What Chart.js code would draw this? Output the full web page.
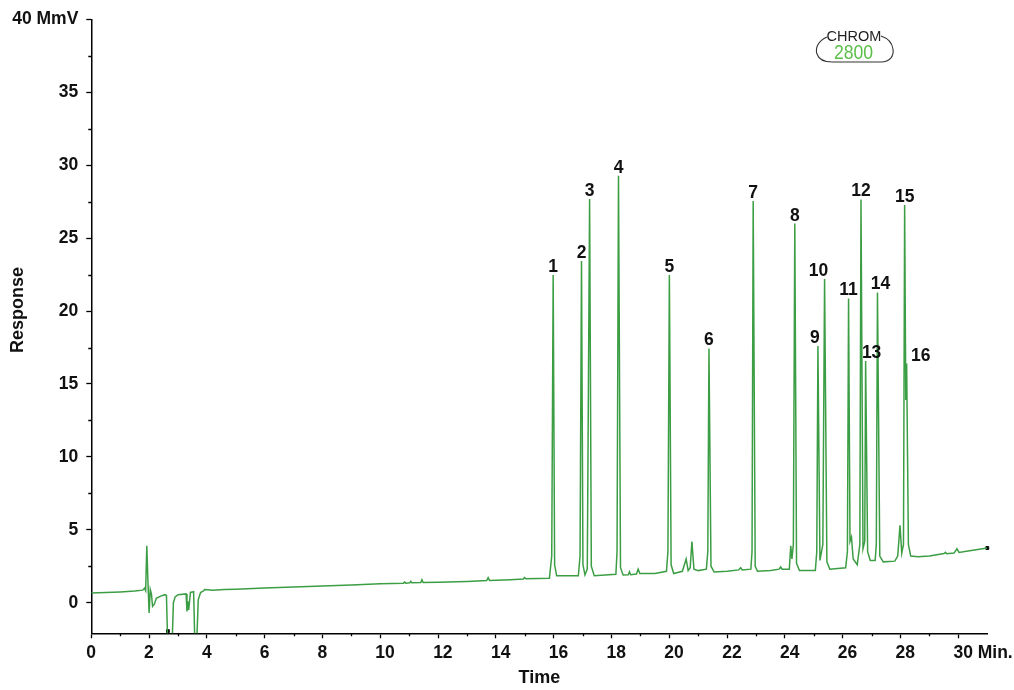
<!DOCTYPE html>
<html>
<head>
<meta charset="utf-8">
<script src="https://cdn.jsdelivr.net/npm/chart.js@4.4.1/dist/chart.umd.min.js"></script>
<style>
  html, body { margin: 0; padding: 0; background: #fff; }
  #wrap { width: 1014px; height: 690px; }
</style>
</head>
<body>
<div id="wrap"><canvas id="chrom" width="1014" height="690"></canvas></div>
<script>
// numbered peaks: retention time (min) and apex response (mV)
var peakNames   = ['1', '2', '3', '4', '5', '6', '7', '8', '9', '10', '11', '12', '13', '14', '15', '16'];
var peakTimes   = [15.98, 16.96, 17.24, 18.24, 20.0, 21.37, 22.9, 24.34, 25.14, 25.37, 26.2, 26.63, 26.79, 27.2, 28.14, 28.21];
var peakHeights = [22.47, 23.43, 27.69, 29.29, 22.47, 17.44, 27.55, 26.0, 17.6, 22.2, 20.87, 27.66, 16.57, 21.28, 27.27, 16.4];

// detector trace between the apexes: [time, response]
var trace = [
  [0, 0.67], [0.5, 0.7], [1, 0.74], [1.5, 0.8], [1.78, 0.86], [1.84, 1.0], [1.88, 0.82], [1.92, 3.9],
  [1.96, 1.4], [2.0, -0.7], [2.04, 0.9], [2.08, 0.6], [2.12, -0.25], [2.18, -0.1], [2.25, 0.3], [2.4, 0.45],
  [2.55, 0.55], [2.6, 0.5], [2.64, -2.6], [2.8, -2.6], [2.84, 0.0], [2.9, 0.4], [3.0, 0.55], [3.28, 0.6],
  [3.31, -0.6], [3.34, 0.1], [3.37, -0.5], [3.43, 0.7], [3.54, 0.75], [3.58, -2.6], [3.65, -2.6], [3.7, 0.2],
  [3.78, 0.7], [3.88, 0.8], [3.92, 0.9], [4.2, 0.86], [4.6, 0.9], [5, 0.92], [6, 1.0], [7, 1.08],
  [8, 1.15], [9, 1.22], [10, 1.3], [10.8, 1.34], [10.84, 1.42], [10.88, 1.34], [11.02, 1.36], [11.05, 1.47],
  [11.09, 1.37], [11.4, 1.38], [11.44, 1.58], [11.48, 1.39], [12, 1.41], [13, 1.46], [13.68, 1.52], [13.73, 1.72],
  [13.78, 1.53], [14.5, 1.58], [14.95, 1.62], [14.99, 1.72], [15.04, 1.64], [15.85, 1.68], [15.93, 3.2], [16.03, 2.6],
  [16.1, 1.85], [16.85, 1.85], [16.91, 3.2], [17.01, 2.6], [17.08, 1.9], [17.16, 2.3], [17.3, 2.5], [17.4, 1.85],
  [18.15, 1.95], [18.19, 3.5], [18.31, 2.4], [18.4, 1.9], [18.58, 1.92], [18.62, 2.12], [18.66, 1.92], [18.86, 1.96],
  [18.92, 2.3], [18.98, 2.0], [19.5, 2.0], [19.9, 2.15], [19.95, 3.5], [20.06, 2.6], [20.15, 2.0], [20.45, 2.15],
  [20.58, 3.0], [20.65, 2.2], [20.72, 2.4], [20.78, 4.2], [20.85, 2.3], [21.0, 2.2], [21.28, 2.3], [21.33, 3.5],
  [21.44, 2.5], [21.55, 2.1], [22, 2.15], [22.4, 2.25], [22.47, 2.4], [22.52, 2.25], [22.82, 2.3], [22.86, 3.5],
  [22.97, 2.5], [23.05, 2.15], [23.5, 2.2], [23.8, 2.3], [23.85, 2.45], [23.9, 2.3], [24.15, 2.3], [24.2, 3.9],
  [24.24, 3.0], [24.29, 4.0], [24.4, 2.7], [24.5, 2.2], [25.05, 2.2], [25.1, 3.5], [25.21, 2.9], [25.31, 4.0],
  [25.45, 2.8], [25.55, 2.3], [26.1, 2.4], [26.16, 3.5], [26.25, 4.2], [26.3, 4.5], [26.36, 3.0], [26.5, 2.6],
  [26.59, 4.0], [26.7, 3.7], [26.76, 4.2], [26.86, 3.5], [26.95, 2.9], [27.12, 2.9], [27.16, 4.0], [27.28, 3.2],
  [27.4, 2.8], [27.8, 2.85], [27.9, 3.2], [27.98, 5.3], [28.04, 3.4], [28.1, 4.0], [28.18, 13.9], [28.27, 4.0],
  [28.35, 3.2], [28.6, 3.15], [29.0, 3.2], [29.3, 3.3], [29.5, 3.37], [29.55, 3.45], [29.6, 3.35], [29.85, 3.4],
  [29.95, 3.7], [30.02, 3.45], [30.5, 3.6], [31.0, 3.75]
];

// integration event marks
var eventTimes  = [2.65, 31.0];
var eventValues = [-1.95, 3.75];

var xTicks = [0, 2, 4, 6, 8, 10, 12, 14, 16, 18, 20, 22, 24, 26, 28, 30];
var xMinor = [1, 3, 5, 7, 9, 11, 13, 15, 17, 19, 21, 23, 25, 27, 29];
var yTicks = [0, 5, 10, 15, 20, 25, 30, 35, 40];
var yMinor = [2.5, 7.5, 12.5, 17.5, 22.5, 27.5, 32.5, 37.5];

var FONT = '"Liberation Sans", Arial, sans-serif';

var points = trace.map(function (p) { return { x: p[0], y: p[1] }; });
peakTimes.forEach(function (t, i) { points.push({ x: t, y: peakHeights[i] }); });
points.sort(function (a, b) { return a.x - b.x; });

var events = eventTimes.map(function (t, i) { return { x: t, y: eventValues[i] }; });

// small nudges so the crowded labels don't sit on neighbouring peaks
var labelShift = { '9': -3, '10': -6, '13': 6, '14': 3, '16': 14 };

var peakLabels = {
  id: 'peakLabels',
  afterDatasetsDraw: function (chart) {
    var ctx = chart.ctx, xs = chart.scales.x, ys = chart.scales.y;
    ctx.save();
    ctx.font = 'bold 17.5px ' + FONT;
    ctx.fillStyle = '#111';
    ctx.textAlign = 'center';
    ctx.textBaseline = 'alphabetic';
    peakNames.forEach(function (name, i) {
      var x = xs.getPixelForValue(peakTimes[i]) + (labelShift[name] || 0);
      var y = ys.getPixelForValue(peakHeights[i]) - 3;
      ctx.fillText(name, x, y);
    });
    ctx.restore();
  }
};

var minorTicks = {
  id: 'minorTicks',
  afterDraw: function (chart) {
    var ctx = chart.ctx, xs = chart.scales.x, ys = chart.scales.y, a = chart.chartArea;
    ctx.save();
    ctx.strokeStyle = '#000';
    ctx.lineWidth = 1.3;
    ctx.beginPath();
    xMinor.forEach(function (v) {
      var px = Math.round(xs.getPixelForValue(v)) + 0.5;
      ctx.moveTo(px, a.bottom); ctx.lineTo(px, a.bottom + 3);
    });
    yMinor.forEach(function (v) {
      var py = Math.round(ys.getPixelForValue(v)) + 0.5;
      ctx.moveTo(a.left, py); ctx.lineTo(a.left - 3, py);
    });
    ctx.stroke();
    ctx.restore();
  }
};

// vertical axis title, sitting a little above the middle of the plot
var yTitle = {
  id: 'yTitle',
  afterDraw: function (chart) {
    var ctx = chart.ctx;
    ctx.save();
    ctx.translate(18.5, 310);
    ctx.rotate(-Math.PI / 2);
    ctx.font = 'bold 18px ' + FONT;
    ctx.fillStyle = '#111';
    ctx.textAlign = 'center';
    ctx.textBaseline = 'middle';
    ctx.fillText('Response', 0, 0);
    ctx.restore();
  }
};

var logo = {
  id: 'logo',
  afterDraw: function (chart) {
    var ctx = chart.ctx;
    ctx.save();
    ctx.strokeStyle = '#333';
    ctx.lineWidth = 1.1;
    ctx.beginPath();
    ctx.moveTo(827, 37);
    ctx.bezierCurveTo(818, 41, 815, 48, 817, 54);
    ctx.bezierCurveTo(819, 60, 825, 62, 832, 62);
    ctx.lineTo(881, 62);
    ctx.bezierCurveTo(890, 62, 894, 56, 893, 49);
    ctx.bezierCurveTo(892, 42, 887, 38, 881, 36);
    ctx.stroke();
    ctx.fillStyle = '#222';
    ctx.font = '14.5px ' + FONT;
    ctx.textAlign = 'center';
    ctx.textBaseline = 'alphabetic';
    ctx.fillText('CHROM', 854, 41);
    ctx.fillStyle = '#5cbf4a';
    ctx.translate(853.5, 59);
    ctx.scale(0.86, 1);
    ctx.font = '20.5px ' + FONT;
    ctx.fillText('2800', 0, 0);
    ctx.restore();
  }
};

new Chart(document.getElementById('chrom').getContext('2d'), {
  type: 'line',
  data: {
    datasets: [
      {
        label: 'Response',
        data: points,
        borderColor: '#3c9e44',
        borderWidth: 1.5,
        pointRadius: 0,
        tension: 0,
        fill: false
      },
      {
        label: 'Events',
        data: events,
        showLine: false,
        pointStyle: 'rect',
        pointRadius: 2,
        backgroundColor: '#000',
        borderColor: '#000',
        clip: false
      }
    ]
  },
  options: {
    responsive: false,
    animation: false,
    devicePixelRatio: 1,
    layout: { padding: { top: 19.5, right: 26.7, bottom: 0, left: 0 } },
    plugins: { legend: { display: false }, tooltip: { enabled: false } },
    scales: {
      x: {
        type: 'linear',
        min: 0,
        max: 31,
        afterBuildTicks: function (s) { s.ticks = xTicks.map(function (v) { return { value: v }; }); },
        afterFit: function (s) { s.height = 56.7; s.paddingLeft = 0; s.paddingRight = 0; },
        grid: { drawOnChartArea: false, drawTicks: true, tickLength: 5, tickColor: '#000', tickWidth: 1.3 },
        border: { display: true, color: '#000', width: 1.5 },
        ticks: {
          autoSkip: false,
          maxRotation: 0,
          align: 'start',
          labelOffset: -5,
          padding: 4,
          color: '#111',
          font: { family: FONT, size: 17.5, weight: 'bold' },
          callback: function (v) { return v === 30 ? '30 Min.' : String(v); }
        },
        title: {
          display: true,
          text: 'Time',
          color: '#111',
          font: { family: FONT, size: 18, weight: 'bold' },
          padding: { top: 0, bottom: 1 }
        }
      },
      y: {
        type: 'linear',
        min: -2.1,
        max: 40,
        afterBuildTicks: function (s) { s.ticks = yTicks.map(function (v) { return { value: v }; }); },
        afterFit: function (s) { s.width = 91.3; s.paddingTop = 0; s.paddingBottom = 0; },
        grid: { drawOnChartArea: false, drawTicks: true, tickLength: 5, tickColor: '#000', tickWidth: 1.3 },
        border: { display: true, color: '#000', width: 1.5 },
        ticks: {
          padding: 8,
          color: '#111',
          font: { family: FONT, size: 17.5, weight: 'bold' },
          callback: function (v) { return v === 40 ? '40 MmV' : String(v); }
        }
      }
    }
  },
  plugins: [peakLabels, minorTicks, yTitle, logo]
});
</script>
</body>
</html>
